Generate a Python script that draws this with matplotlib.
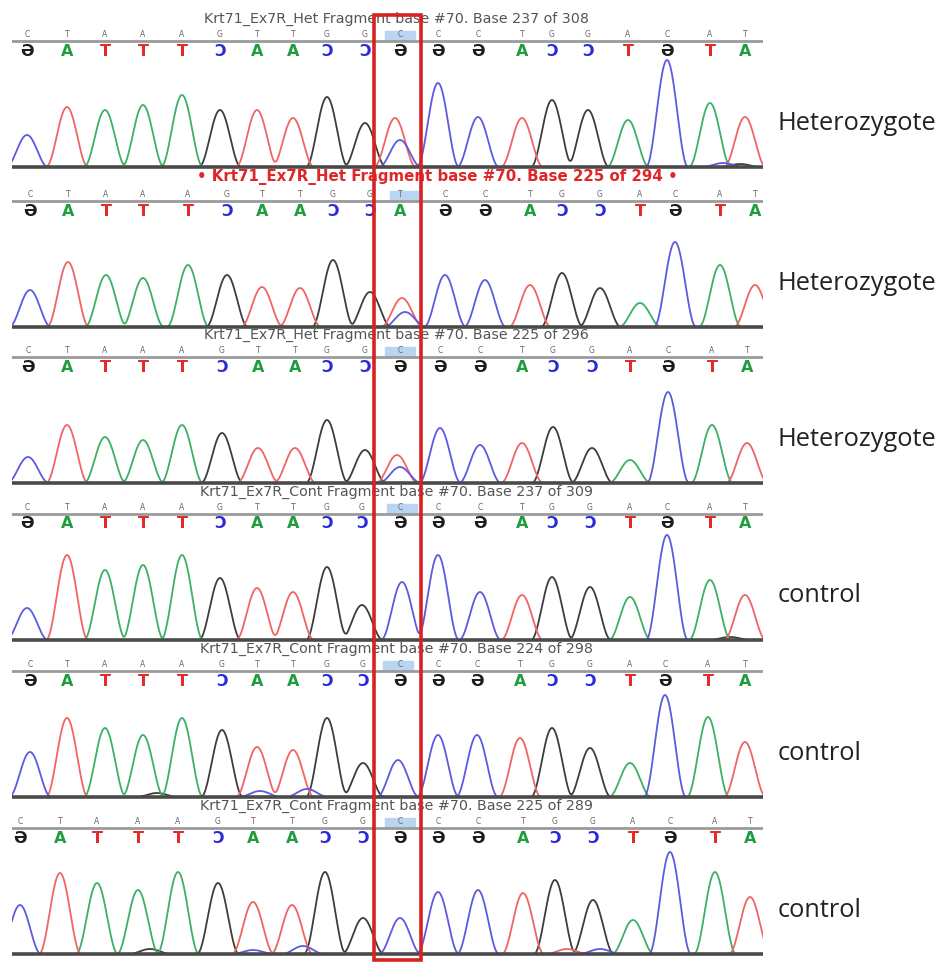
import numpy as np
import matplotlib.pyplot as plt
from matplotlib.patches import Rectangle

# called sequence for each lane (index 10 is the edited base #70)
CALLS = [
    "CTAAAGTTGGCCCTGGACAT",
    "CTAAAGTTGGTCCTGGACAT",
    "CTAAAGTTGGCCCTGGACAT",
    "CTAAAGTTGGCCCTGGACAT",
    "CTAAAGTTGGCCCTGGACAT",
    "CTAAAGTTGGCCCTGGACAT",
]
SEQ = "CTAAAGTTGGCCCTGGACAT"   # base giving the main peak at each position

TITLES = [
    "Krt71_Ex7R_Het Fragment base #70. Base 237 of 308",
    "\u2022 Krt71_Ex7R_Het Fragment base #70. Base 225 of 294 \u2022",
    "Krt71_Ex7R_Het Fragment base #70. Base 225 of 296",
    "Krt71_Ex7R_Cont Fragment base #70. Base 237 of 309",
    "Krt71_Ex7R_Cont Fragment base #70. Base 224 of 298",
    "Krt71_Ex7R_Cont Fragment base #70. Base 225 of 289",
]
LABELS = ["Heterozygote", "Heterozygote", "Heterozygote", "control", "control", "control"]

# peak positions (scan units) and heights for the 20 bases of each lane
X1 = [27, 67, 105, 143, 182, 220, 257, 293, 327, 365, 400, 438, 478, 522, 552, 588, 628, 667, 710, 745]
H1 = [32, 60, 57, 62, 72, 57, 57, 49, 70, 44, 27, 84, 50, 49, 67, 57, 47, 107, 64, 50]
X2 = [30, 68, 106, 143, 188, 227, 262, 300, 333, 370, 405, 445, 485, 530, 562, 600, 640, 675, 720, 755]
H2 = [37, 65, 52, 49, 62, 52, 40, 39, 67, 35, 15, 52, 47, 42, 54, 39, 24, 85, 62, 42]
X3 = [28, 67, 105, 143, 182, 222, 258, 295, 327, 365, 400, 440, 480, 522, 553, 592, 630, 668, 712, 747]
H3 = [26, 58, 46, 43, 58, 50, 35, 35, 63, 33, 16, 55, 38, 40, 56, 35, 23, 91, 58, 40]
X4 = [27, 67, 105, 143, 182, 220, 257, 293, 327, 362, 402, 438, 480, 522, 552, 590, 630, 667, 710, 745]
H4 = [32, 85, 70, 75, 85, 62, 52, 48, 73, 35, 58, 85, 48, 45, 63, 53, 43, 105, 60, 45]
X5 = [30, 67, 105, 143, 182, 222, 257, 293, 327, 363, 398, 438, 477, 520, 552, 590, 630, 665, 708, 745]
H5 = [45, 79, 69, 62, 79, 67, 50, 47, 79, 34, 37, 62, 62, 59, 69, 49, 34, 102, 80, 55]
X6 = [20, 60, 97, 138, 178, 218, 253, 292, 325, 363, 400, 438, 478, 523, 555, 593, 633, 670, 715, 750]
H6 = [49, 81, 71, 64, 82, 71, 52, 49, 82, 36, 36, 62, 64, 61, 74, 54, 34, 102, 82, 57]

# second (T) peak at base #70 in the heterozygotes
HET_T_X = [395, 402, 397, None, None, None]
HET_T_H = [49, 29, 28, None, None, None]

# small background bumps near the baseline
MINOR_LANE = [0, 0, 3, 4, 4, 4, 5, 5, 5, 5, 5]
MINOR_BASE = ["C", "G", "G", "G", "C", "C", "G", "C", "C", "T", "C"]
MINOR_X = [723, 740, 730, 157, 260, 307, 150, 253, 303, 567, 600]
MINOR_H = [4, 3, 3, 4, 6, 8, 5, 4, 8, 5, 5]

XS = [X1, X2, X3, X4, X5, X6]
HS = [H1, H2, H3, H4, H5, H6]

TRACE_COLORS = {"A": "#3cb064", "C": "#5b5be0", "G": "#3d3d3d", "T": "#f06464"}
LETTER_COLORS = {"A": "#1d9d3d", "C": "#2a2ad8", "G": "#1c1c1c", "T": "#e62a2a"}
# reverse strand letters are shown mirrored
MIRROR = {"A": "T", "T": "A", "C": "\u04d8", "G": "\u0186"}
COMP = {"A": "T", "T": "A", "C": "G", "G": "C"}

W, H = 949, 963
BASELINES = [167, 327, 483, 640, 797, 954]   # pixel rows of lane baselines
LINE_Y = 126
HALF_W = 21
X_LO, X_HI = 12, 763

fig = plt.figure(figsize=(W / 100, H / 100), dpi=100)

grid = np.arange(X_LO - 25, X_HI + 25, 0.5)


def peak_shape(center, height):
    d = np.abs(grid - center)
    return np.where(d < HALF_W, height * np.cos(np.pi * d / (2 * HALF_W)) ** 2, 0.0)


for i in range(6):
    ax = fig.add_axes([X_LO / W, (H - BASELINES[i] - 4) / H, (X_HI - X_LO) / W, 160 / H])
    ax.set_xlim(X_LO, X_HI)
    ax.set_ylim(-4, 156)
    ax.axis("off")

    peaks = {b: [] for b in "ACGT"}
    for b, x, h in zip(SEQ, XS[i], HS[i]):
        peaks[b].append((x, h))
    if HET_T_X[i] is not None:
        peaks["T"].append((HET_T_X[i], HET_T_H[i]))
    for lane, b, x, h in zip(MINOR_LANE, MINOR_BASE, MINOR_X, MINOR_H):
        if lane == i:
            peaks[b].append((x, h))

    for b in "GATC":
        sig = np.zeros_like(grid)
        for x, h in peaks[b]:
            sig += peak_shape(x, h)
        sig = np.where(sig > 0.5, sig, np.nan)
        ax.plot(grid, sig, color=TRACE_COLORS[b], lw=1.3, zorder=2, solid_capstyle="round")

    ax.axhline(0, color="#4a4a4a", lw=2.6, zorder=3)
    ax.axhline(LINE_Y, color="#9a9a9a", lw=2.0, zorder=1)

    # highlighted base #70
    ax.add_patch(Rectangle((XS[i][10] - 15, LINE_Y), 30, 10, color="#b9d5f2", zorder=0))

    for k, ch in enumerate(CALLS[i]):
        x = XS[i][k] if k != 10 else 400
        ax.text(x, LINE_Y + 2, ch, fontsize=5.5, color="#666666", ha="center", va="bottom", zorder=4)
        ax.text(x, LINE_Y - 10, MIRROR[ch], fontsize=11.5, fontweight="bold",
                family=["Liberation Sans Narrow", "DejaVu Sans"],
                color=LETTER_COLORS[COMP[ch]], ha="center", va="center", zorder=4)

    if i == 1:
        ax.text(437, 150, TITLES[i], fontsize=10.8, color="#e02626", fontweight="bold",
                ha="center", va="center")
    else:
        ax.text(396, 148, TITLES[i], fontsize=10.3, color="#555555", ha="center", va="center")

    fig.text(778 / W, (H - BASELINES[i] + 44) / H, LABELS[i], fontsize=18.3, family="Open Sans",
             color="#222222", ha="left", va="center")

# red box around base #70 spanning all lanes
ov = fig.add_axes([X_LO / W, 0, (X_HI - X_LO) / W, 1])
ov.set_xlim(X_LO, X_HI)
ov.set_ylim(H, 0)
ov.axis("off")
ov.add_patch(Rectangle((X1[10] - 26, 15), 47, 945, fill=False, ec="#d82222", lw=2.6, zorder=10))

fig.savefig("out.png", dpi=100)
